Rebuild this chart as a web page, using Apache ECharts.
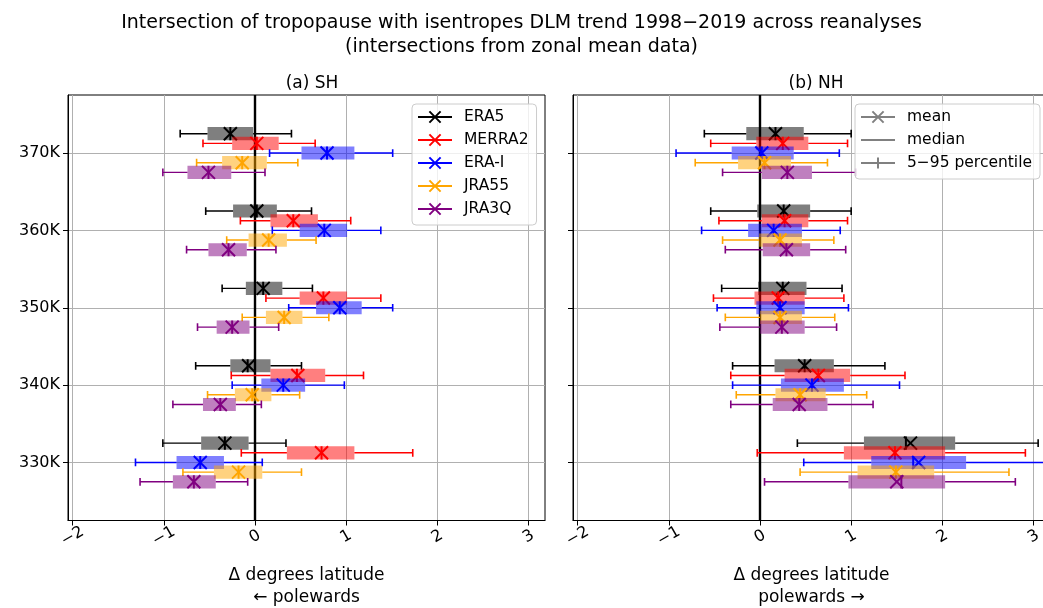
<!DOCTYPE html>
<html><head><meta charset="utf-8">
<script src="https://cdn.jsdelivr.net/npm/echarts@6/dist/echarts.min.js"></script>
<style>html,body{margin:0;padding:0;background:#fff}#c{width:1043px;height:608px}</style>
</head><body><div id="c"></div><script>
// ---------- data ----------
const levels = [370, 360, 350, 340, 330];
const levelTicks = [330, 340, 350, 360, 370];
const xTicks = [-2, -1, 0, 1, 2, 3];
const reanalyses = ['ERA5', 'MERRA2', 'ERA-I', 'JRA55', 'JRA3Q'];
const statNames = ['mean', 'median', '5\u221295 percentile'];
// each row (per level, 370K..330K): [p5, q25, median, q75, p95, mean]
const SH_ERA5 = [[-0.82,-0.52,-0.27,-0.02,0.40,-0.27],[-0.54,-0.24,0.02,0.24,0.62,0.02],[-0.36,-0.10,0.09,0.30,0.63,0.09],[-0.65,-0.27,-0.08,0.17,0.51,-0.07],[-1.01,-0.59,-0.33,-0.07,0.34,-0.33]];
const SH_MERRA2 = [[-0.57,-0.25,0.02,0.26,0.66,0.02],[-0.16,0.17,0.42,0.69,1.05,0.42],[0.12,0.49,0.75,1.01,1.38,0.75],[-0.26,0.17,0.46,0.77,1.19,0.47],[-0.15,0.35,0.73,1.09,1.73,0.73]];
const SH_ERAI = [[0.16,0.51,0.79,1.09,1.51,0.79],[0.19,0.49,0.76,1.01,1.38,0.76],[0.37,0.67,0.93,1.17,1.51,0.93],[-0.25,0.07,0.31,0.55,0.98,0.31],[-1.31,-0.86,-0.60,-0.34,0.08,-0.60]];
const SH_JRA55 = [[-0.64,-0.36,-0.14,0.13,0.47,-0.14],[-0.31,-0.07,0.15,0.35,0.67,0.15],[-0.14,0.12,0.32,0.52,0.81,0.32],[-0.52,-0.22,-0.03,0.18,0.49,-0.03],[-0.79,-0.45,-0.18,0.08,0.51,-0.18]];
const SH_JRA3Q = [[-1.01,-0.74,-0.51,-0.26,0.11,-0.51],[-0.75,-0.51,-0.29,-0.09,0.23,-0.29],[-0.63,-0.42,-0.25,-0.06,0.26,-0.25],[-0.90,-0.57,-0.38,-0.21,0.07,-0.38],[-1.26,-0.90,-0.67,-0.43,-0.08,-0.67]];
const NH_ERA5 = [[-0.61,-0.15,0.17,0.48,1.00,0.17],[-0.54,-0.03,0.26,0.55,1.00,0.26],[-0.42,-0.02,0.25,0.51,0.90,0.25],[-0.30,0.16,0.49,0.81,1.37,0.49],[0.41,1.14,1.60,2.14,3.05,1.65]];
const NH_MERRA2 = [[-0.54,-0.04,0.25,0.53,0.96,0.25],[-0.45,0.02,0.27,0.53,0.96,0.27],[-0.51,-0.06,0.20,0.49,0.92,0.20],[-0.32,0.27,0.64,0.99,1.59,0.64],[-0.03,0.92,1.48,2.03,2.91,1.48]];
const NH_ERAI = [[-0.92,-0.31,0.02,0.37,0.87,0.02],[-0.64,-0.13,0.15,0.46,0.88,0.15],[-0.47,-0.04,0.22,0.49,0.97,0.22],[-0.30,0.23,0.57,0.92,1.53,0.57],[0.48,1.22,1.68,2.26,3.25,1.74]];
const NH_JRA55 = [[-0.71,-0.24,0.05,0.34,0.74,0.05],[-0.41,-0.01,0.22,0.46,0.81,0.22],[-0.38,0.00,0.22,0.46,0.82,0.22],[-0.26,0.17,0.44,0.72,1.17,0.44],[0.44,1.07,1.49,1.91,2.73,1.49]];
const NH_JRA3Q = [[-0.41,0.02,0.30,0.57,1.05,0.30],[-0.38,0.03,0.29,0.55,0.94,0.29],[-0.44,0.00,0.24,0.49,0.84,0.24],[-0.32,0.14,0.43,0.74,1.24,0.43],[0.05,0.97,1.55,2.03,2.80,1.50]];

const SH = [SH_ERA5, SH_MERRA2, SH_ERAI, SH_JRA55, SH_JRA3Q];
const NH = [NH_ERA5, NH_MERRA2, NH_ERAI, NH_JRA55, NH_JRA3Q];

// ---------- styles ----------
const FONT = 'DejaVu Sans';
const colors = ['#000000', '#ff0000', '#0000ff', '#ffa500', '#800080'];
const offsets = [2.5, 1.25, 0, -1.25, -2.5];
const GRAY = '#808080';

function makeRender(k) {
  const col = colors[k];
  const fill = echarts.color.modifyAlpha(col, 0.5);
  return function (params, api) {
    const yv = api.value(0) + offsets[k];
    const lo = api.coord([api.value(1), yv]);
    const q1 = api.coord([api.value(2), yv]);
    const md = api.coord([api.value(3), yv]);
    const q3 = api.coord([api.value(4), yv]);
    const hi = api.coord([api.value(5), yv]);
    const mn = api.coord([api.value(6), yv]);
    const bh = api.size([0, 1.7])[1];
    const ch = api.size([0, 1.0])[1];
    const y = lo[1];
    const m = 6.5;
    const ls = { stroke: col, lineWidth: 1.4 };
    return {
      type: 'group',
      children: [
        { type: 'rect', shape: { x: q1[0], y: y - bh / 2, width: q3[0] - q1[0], height: bh }, style: { fill: fill } },
        { type: 'line', shape: { x1: lo[0], y1: y, x2: q1[0], y2: y }, style: ls },
        { type: 'line', shape: { x1: q3[0], y1: y, x2: hi[0], y2: y }, style: ls },
        { type: 'line', shape: { x1: lo[0], y1: y - ch / 2, x2: lo[0], y2: y + ch / 2 }, style: { stroke: col, lineWidth: 1.6 } },
        { type: 'line', shape: { x1: hi[0], y1: y - ch / 2, x2: hi[0], y2: y + ch / 2 }, style: { stroke: col, lineWidth: 1.6 } },
        { type: 'line', shape: { x1: md[0], y1: y - bh / 2, x2: md[0], y2: y + bh / 2 }, style: { stroke: col, lineWidth: 2 } },
        { type: 'line', shape: { x1: mn[0] - m, y1: y - m, x2: mn[0] + m, y2: y + m }, style: { stroke: col, lineWidth: 2 } },
        { type: 'line', shape: { x1: mn[0] - m, y1: y + m, x2: mn[0] + m, y2: y - m }, style: { stroke: col, lineWidth: 2 } }
      ]
    };
  };
}

function toData(arr) { return levels.map((lv, i) => [lv].concat(arr[i])); }

const series = [];
[SH, NH].forEach((panel, p) => {
  panel.forEach((arr, k) => {
    const s = {
      type: 'custom',
      name: (p === 0 ? 'SH ' : 'NH ') + reanalyses[k],
      xAxisIndex: p, yAxisIndex: p,
      renderItem: makeRender(k),
      encode: { x: [1, 2, 3, 4, 5, 6], y: 0 },
      data: toData(arr),
      clip: true,
      silent: true,
      z: 3
    };
    if (k === 0) {
      s.markLine = {
        silent: true, symbol: 'none', label: { show: false },
        lineStyle: { color: '#000', width: 2.4, type: 'solid' },
        data: [{ xAxis: 0 }], animation: false, z: 2
      };
    }
    series.push(s);
  });
});

const XSYM = 'path://M0,0L10,10M10,0L0,10';
reanalyses.forEach((name, k) => {
  series.push({
    type: 'line', name: name, xAxisIndex: 0, yAxisIndex: 0, data: [],
    symbol: XSYM, symbolSize: 12,
    lineStyle: { color: colors[k], width: 2 },
    itemStyle: { color: colors[k], borderColor: colors[k], borderWidth: 1.6 }
  });
});
series.push({
  type: 'line', name: statNames[0], xAxisIndex: 1, yAxisIndex: 1, data: [],
  symbol: XSYM, lineStyle: { color: GRAY, width: 2 },
  itemStyle: { color: GRAY, borderColor: GRAY, borderWidth: 1.6 }
});
series.push({
  type: 'line', name: statNames[1], xAxisIndex: 1, yAxisIndex: 1, data: [],
  symbol: XSYM, lineStyle: { color: GRAY, width: 2 },
  itemStyle: { color: 'rgba(0,0,0,0)', borderColor: 'rgba(0,0,0,0)', borderWidth: 0 }
});
series.push({
  type: 'line', name: statNames[2], xAxisIndex: 1, yAxisIndex: 1, data: [],
  symbol: 'path://M5,0L5,10M0,5L10,5', lineStyle: { color: GRAY, width: 2 },
  itemStyle: { color: GRAY, borderColor: GRAY, borderWidth: 1.6 }
});

function xAxisDef(idx, nameTxt) {
  return {
    type: 'value', gridIndex: idx, min: -2.05, max: 3.18,
    name: nameTxt, nameLocation: 'middle', nameGap: 44,
    nameTextStyle: { fontFamily: FONT, fontSize: 17, color: '#000', lineHeight: 22 },
    axisLine: { show: true, onZero: false, lineStyle: { color: '#000', width: 1 } },
    axisTick: { show: true, length: 5, inside: false, customValues: xTicks, lineStyle: { color: '#000' } },
    axisLabel: {
      show: true, customValues: xTicks, rotate: 30, margin: 16,
      align: 'center', verticalAlign: 'middle',
      fontFamily: FONT, fontSize: 16, color: '#000',
      formatter: v => String(v).replace('-', '\u2212')
    },
    splitLine: { show: true, lineStyle: { color: '#b0b0b0', width: 1 } }
  };
}
function yAxisDef(idx, showLabels) {
  return {
    type: 'value', gridIndex: idx, min: 322.5, max: 377.5,
    axisLine: { show: true, onZero: false, lineStyle: { color: '#000', width: 1 } },
    axisTick: { show: true, length: 5, inside: false, customValues: levelTicks, lineStyle: { color: '#000' } },
    axisLabel: {
      show: showLabels, customValues: levelTicks, margin: 8,
      fontFamily: FONT, fontSize: 16, color: '#000',
      formatter: v => v + 'K'
    },
    splitLine: { show: true, lineStyle: { color: '#b0b0b0', width: 1 } }
  };
}

const legendCommon = {
  orient: 'vertical', selectedMode: false,
  itemWidth: 34, itemHeight: 14, itemGap: 7,
  padding: [5, 8, 8, 5],
  backgroundColor: 'rgba(255,255,255,0.8)',
  borderColor: '#cccccc', borderWidth: 1, borderRadius: 4,
  textStyle: { fontFamily: FONT, fontSize: 15.5, color: '#000', padding: [0, 0, 0, 7] }
};

const gridCommon = {
  top: 95, width: 477, height: 425.5, show: true, borderColor: '#000', borderWidth: 1,
  backgroundColor: 'transparent', containLabel: false, outerBoundsMode: 'none'
};

const option = {
  animation: false,
  backgroundColor: '#ffffff',
  title: [
    {
      text: 'Intersection of tropopause with isentropes DLM trend 1998\u22122019 across reanalyses\n(intersections from zonal mean data)',
      left: 'center', top: 6,
      textStyle: { fontFamily: FONT, fontSize: 19, fontWeight: 'normal', lineHeight: 24, color: '#000' }
    },
    { text: '(a) SH', left: 307, textAlign: 'center', top: 70, textStyle: { fontFamily: FONT, fontSize: 17, fontWeight: 'normal', color: '#000' } },
    { text: '(b) NH', left: 811, textAlign: 'center', top: 70, textStyle: { fontFamily: FONT, fontSize: 17, fontWeight: 'normal', color: '#000' } }
  ],
  grid: [
    Object.assign({}, gridCommon, { left: 68 }),
    Object.assign({}, gridCommon, { left: 573 })
  ],
  xAxis: [
    xAxisDef(0, '\u0394 degrees latitude\n\u2190 polewards'),
    xAxisDef(1, '\u0394 degrees latitude\npolewards \u2192')
  ],
  yAxis: [yAxisDef(0, true), yAxisDef(1, false)],
  legend: [
    Object.assign({}, legendCommon, { data: reanalyses, left: 412, top: 104 }),
    Object.assign({}, legendCommon, { data: statNames, left: 855, top: 104 })
  ],
  series: series
};

const chart = echarts.init(document.getElementById('c'), null, { renderer: 'canvas' });
chart.setOption(option);
</script></body></html>
